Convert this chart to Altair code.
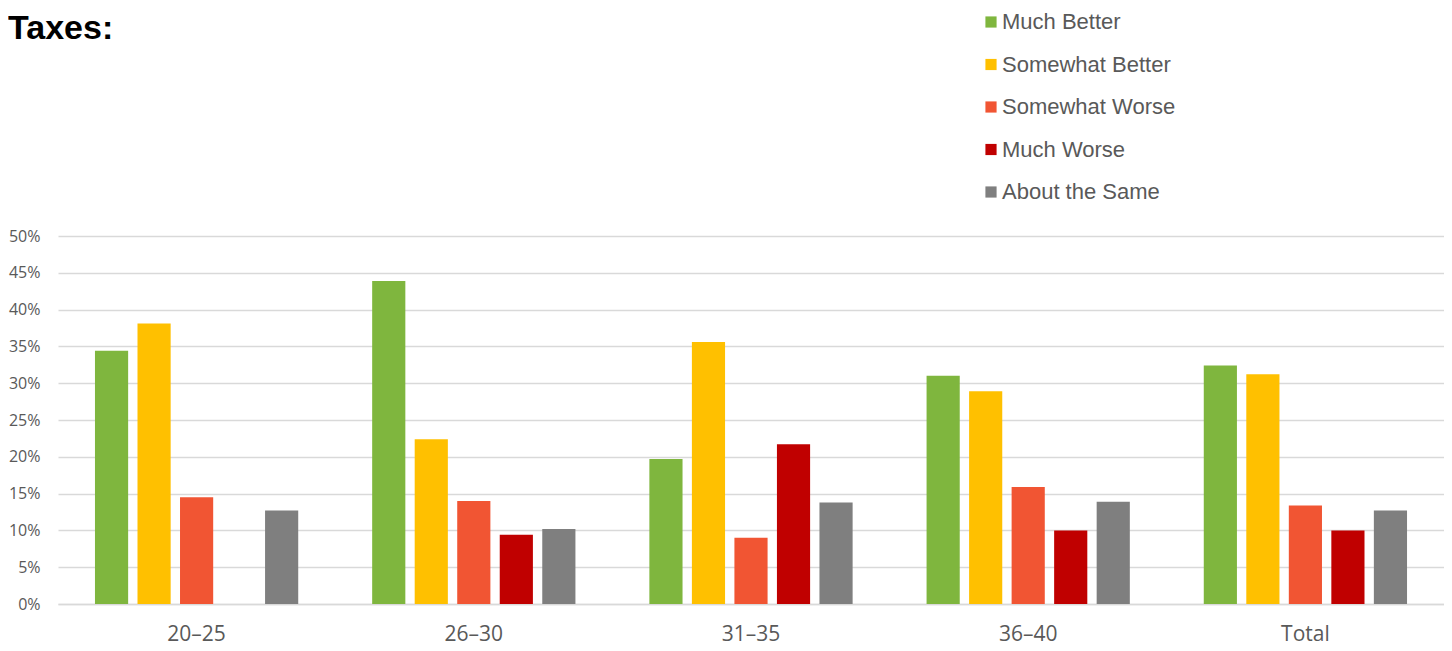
import altair as alt
import pandas as pd

categories = ["20–25", "26–30", "31–35", "36–40", "Total"]
series = ["Much Better", "Somewhat Better", "Somewhat Worse", "Much Worse", "About the Same"]
colors = ["#7FB63E", "#FFC000", "#F15533", "#C00000", "#7F7F7F"]

much_better = [0.344, 0.439, 0.197, 0.310, 0.324]
somewhat_better = [0.381, 0.224, 0.356, 0.289, 0.312]
somewhat_worse = [0.145, 0.140, 0.090, 0.159, 0.134]
much_worse = [0.0, 0.094, 0.217, 0.100, 0.100]
about_same = [0.127, 0.102, 0.138, 0.139, 0.127]

chart_title = ["Taxes:"]

values = [much_better, somewhat_better, somewhat_worse, much_worse, about_same]
rows = []
for s, vals in zip(series, values):
    for c, v in zip(categories, vals):
        rows.append({"Age": c, "Response": s, "Share": v})
df = pd.DataFrame(rows)

TXT = "#595959"
FONT = "Open Sans"

bars = alt.Chart(df).mark_bar().encode(
    x=alt.X("Age:N", sort=categories, title=None,
            scale=alt.Scale(paddingInner=0.233, paddingOuter=0.1165),
            axis=alt.Axis(labelAngle=0, labelFontSize=21, labelColor=TXT, labelFont=FONT,
                          labelPadding=19, ticks=False, domainColor="#D9D9D9", domainWidth=1.5)),
    xOffset=alt.XOffset("Response:N", sort=series,
                        scale=alt.Scale(paddingInner=0.22, paddingOuter=0.11)),
    y=alt.Y("Share:Q", title=None,
            scale=alt.Scale(domain=[0, 0.5]),
            axis=alt.Axis(format=".0%", values=[i / 20 for i in range(11)],
                          labelFontSize=16, labelColor=TXT, labelFont=FONT, labelPadding=18,
                          ticks=False, domain=False, gridColor="#D9D9D9", gridWidth=1.5)),
    color=alt.Color("Response:N", sort=series,
                    scale=alt.Scale(domain=series, range=colors),
                    legend=alt.Legend(title=None, orient="none", legendX=922, legendY=-225,
                                      symbolType="square", symbolSize=125, symbolStrokeWidth=0,
                                      labelFontSize=22, labelColor=TXT, labelFont="Liberation Sans",
                                      labelLimit=400, rowPadding=20.5, labelOffset=0)),
)

title_df = pd.DataFrame({"t": chart_title})
title = alt.Chart(title_df).mark_text(
    align="left", baseline="alphabetic", fontSize=34, fontWeight="bold",
    font="Liberation Sans", color="#000000"
).encode(text="t:N", x=alt.value(-50), y=alt.value(-197))

chart = alt.layer(bars, title).properties(
    width=1386, height=368,
    autosize=alt.AutoSizeParams(type="none"),
    padding={"left": 50, "top": 228, "right": 0, "bottom": 44},
).configure_view(stroke=None)

chart.save("out.html", embed_options={"renderer": "svg", "actions": False})
